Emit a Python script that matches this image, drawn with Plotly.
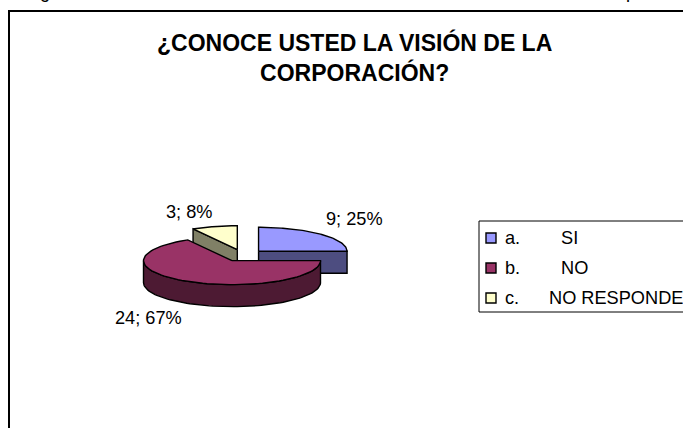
"""Exploded 3D-style pie drawn from the survey counts."""

from __future__ import annotations

import numpy as np
import plotly.graph_objects as go

CATEGORIES = ["a.", "b.", "c."]
ANSWERS = ["SI", "NO", "NO RESPONDE"]
VALUES = [9, 24, 3]
TITLE = "¿CONOCE USTED LA VISIÓN DE LA<br>CORPORACIÓN?"
# the line above the chart is cut off, only these descenders are left
CUT_LETTERS = ["g", "p"]

TOP_COLORS = ["#9999ff", "#993366", "#ffffcc"]
SIDE_COLORS = ["#4d4d80", "#4d1a33", "#808066"]
FONT = "Liberation Sans, Arial, sans-serif"

# pie geometry in page pixels
CX, CY = 243, 255.5
RX, RY = 88.5, 24
DEPTH = 22
EXPLODE = 22


def ellipse(cx, cy, a0, a1, dy=0):
    """Points on the pie rim, angles clockwise from 12 o'clock."""
    t = np.radians(np.linspace(a0, a1, 80))
    return cx + RX * np.sin(t), cy - RY * np.cos(t) + dy


def poly(x, y, color):
    return go.Scatter(
        x=list(x), y=list(y), mode="lines", fill="toself", fillcolor=color,
        line={"color": "#000000", "width": 1.4}, hoverinfo="skip", showlegend=False,
    )


total = sum(VALUES)
edges = np.concatenate([[0], np.cumsum(VALUES) / total * 360])
slices = []
for i in range(len(VALUES)):
    a0, a1 = edges[i], edges[i + 1]
    mid = np.radians((a0 + a1) / 2)
    slices.append((a0, a1, CX + EXPLODE * np.sin(mid), CY - EXPLODE * RY / RX * np.cos(mid)))

fig = go.Figure()

# blue: the cut face at its end angle looks toward the viewer
a0, a1, cx, cy = slices[0]
ex, ey = ellipse(cx, cy, a1, a1)
fig.add_trace(poly([cx, ex[0], ex[0], cx, cx], [cy, ey[0], ey[0] + DEPTH, cy + DEPTH, cy], SIDE_COLORS[0]))
x, y = ellipse(cx, cy, a0, a1)
fig.add_trace(poly([cx, *x, cx], [cy, *y, cy], TOP_COLORS[0]))

# yellow: only the cut face at its start angle shows
a0, a1, cx, cy = slices[2]
ex, ey = ellipse(cx, cy, a0, a0)
fig.add_trace(poly([cx, ex[0], ex[0], cx, cx], [cy, ey[0], ey[0] + DEPTH, cy + DEPTH, cy], SIDE_COLORS[2]))
x, y = ellipse(cx, cy, a0, a1)
fig.add_trace(poly([cx, *x, cx], [cy, *y, cy], TOP_COLORS[2]))

# maroon last, its outer wall covers the front half of the rim
a0, a1, cx, cy = slices[1]
x, y = ellipse(cx, cy, a0, min(a1, 270))
fig.add_trace(poly([*x, *x[::-1], x[0]], [*y, *(y[::-1] + DEPTH), y[0]], SIDE_COLORS[1]))
x, y = ellipse(cx, cy, a0, a1)
fig.add_trace(poly([cx, *x, cx], [cy, *y, cy], TOP_COLORS[1]))

# legend swatches
LEGEND_Y = [238, 268, 298]
fig.add_trace(go.Scatter(
    x=[491] * 3, y=LEGEND_Y, mode="markers", hoverinfo="skip", showlegend=False,
    marker={"symbol": "square", "size": 10, "color": TOP_COLORS, "line": {"color": "#000000", "width": 1.4}},
))

annotations = [
    {"x": 354, "y": 219, "text": f"{VALUES[0]}; {VALUES[0] / total:.0%}"},
    {"x": 148, "y": 318, "text": f"{VALUES[1]}; {VALUES[1] / total:.0%}"},
    {"x": 189, "y": 212, "text": f"{VALUES[2]}; {VALUES[2] / total:.0%}"},
]
for cat, answer, ly, ax in zip(CATEGORIES, ANSWERS, LEGEND_Y, [559, 559, 547]):
    annotations.append({"x": 503, "y": ly, "text": cat, "xanchor": "left"})
    annotations.append({"x": ax, "y": ly, "text": answer, "xanchor": "left"})
annotations.append({
    "x": 354, "y": 57, "text": f"<b>{TITLE}</b>", "font": {"size": 23, "family": FONT, "color": "#000000"},
})
for letter, lx in zip(CUT_LETTERS, [45, 631]):
    annotations.append({"x": lx, "y": 0, "yshift": 8, "text": letter})

fig.update_layout(
    width=683, height=428, margin={"l": 0, "r": 0, "t": 0, "b": 0},
    paper_bgcolor="#ffffff", plot_bgcolor="#ffffff", showlegend=False,
    font={"family": FONT, "size": 18.2, "color": "#000000"},
    xaxis={"range": [0, 683], "visible": False, "fixedrange": True},
    yaxis={"range": [428, 0], "visible": False, "fixedrange": True},
    shapes=[
        {"type": "rect", "x0": 9, "y0": 11, "x1": 700, "y1": 450, "line": {"color": "#000000", "width": 2}, "layer": "below"},
        {"type": "rect", "x0": 479, "y0": 221, "x1": 700, "y1": 312, "line": {"color": "#000000", "width": 1}, "layer": "below"},
    ],
)
for a in annotations:
    a.setdefault("showarrow", False)
    a.setdefault("xanchor", "center")
    a.setdefault("yanchor", "middle")
    fig.add_annotation(**a)

# page margin would push the chart off the 683 wide window
fig.write_html(
    "out.html",
    config={"displayModeBar": False},
    post_script="document.body.style.margin = '0';",
)
